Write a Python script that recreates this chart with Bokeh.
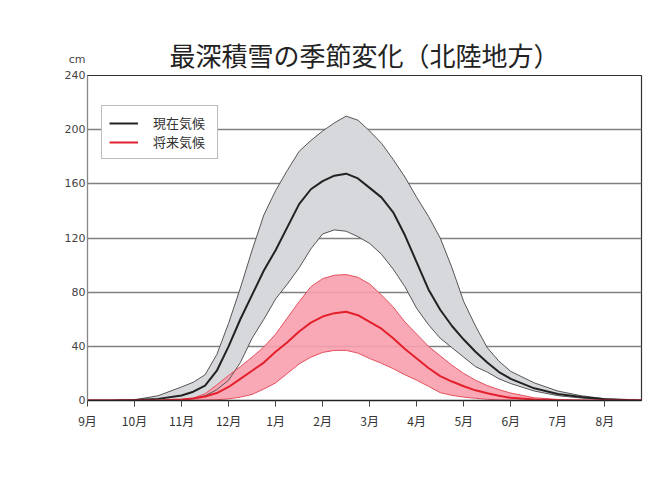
from bokeh.plotting import figure
from bokeh.models import Range1d, FixedTicker, Legend, LegendItem
from bokeh.embed import file_html
from bokeh.resources import INLINE

# x positions in month units (0 = start of September)
month_pos = [0, 0.5, 1, 1.5, 2, 2.25, 2.5, 2.75, 3, 3.25, 3.5, 3.75, 4, 4.25, 4.5, 4.75,
             5, 5.25, 5.5, 5.75, 6, 6.25, 6.5, 6.75, 7, 7.25, 7.5, 7.75, 8, 8.25, 8.5, 8.75,
             9, 9.5, 10, 10.5, 11, 11.5, 11.78]

# 現在気候 (present climate)
cur_mid = [0, 0, 0.3, 1.2, 3.7, 6.5, 11, 22, 40, 60, 78, 96, 111, 128, 145, 156,
           162, 166, 167.5, 164, 157, 150, 139, 122, 102, 82, 67, 55, 45, 36, 28, 21,
           16, 9, 4.8, 2.5, 1, 0.3, 0]
cur_hi = [0, 0, 0.5, 3.5, 10, 13.5, 19, 34, 57, 83, 111, 137, 155, 170, 184, 192,
          199, 205, 210, 207, 199, 190, 178, 165, 150, 136, 120, 98, 73, 55, 39, 29,
          21.5, 13, 7, 3.5, 1.3, 0.4, 0]
cur_lo = [0, 0, 0, 0, 0.5, 1.5, 3.5, 8, 15, 28, 46, 60, 75, 86, 98, 112,
          123, 126, 125, 121, 116, 108, 97, 84, 68, 56, 46, 39, 32, 25, 21, 16,
          12.5, 7, 3.6, 1.8, 0.8, 0.2, 0]

# 将来気候 (future climate)
fut_mid = [0, 0, 0, 0, 0.7, 1.5, 3, 5.5, 10, 16, 22, 28, 36, 43, 51, 57.5,
           62, 64.5, 65.5, 63, 58, 53, 46, 38, 31, 24, 18, 14, 10.5, 7.5, 5.3, 3.5,
           2, 0.7, 0.2, 0, 0, 0, 0]
fut_hi = [0, 0, 0, 0, 0.5, 1.8, 5, 11.5, 18.5, 25, 32, 39.5, 49, 61, 73, 84,
          90, 92.5, 93, 91, 86, 78, 69, 58, 49, 40, 33, 26, 20, 15, 11, 8,
          5.5, 2, 0.8, 0.2, 0, 0, 0]
fut_lo = [0, 0, 0, 0, 0, 0, 0.2, 0.6, 1.2, 2.5, 4.5, 8.5, 13, 20, 27, 32,
          35.5, 37, 37, 35, 31, 27.5, 23.5, 19, 15, 10.5, 5.8, 3.8, 2.5, 1.6, 0.9, 0.4,
          0.2, 0, 0, 0, 0, 0, 0]

month_ticks = [0, 1, 2, 3, 4, 5, 6, 7, 8, 9, 10, 11]
month_labels = ["9月", "10月", "11月", "12月", "1月", "2月", "3月", "4月", "5月", "6月", "7月", "8月"]
y_ticks = [0, 40, 80, 120, 160, 200, 240]

title_text = "最深積雪の季節変化（北陸地方）"
unit_text = "cm"
legend_labels = ["現在気候", "将来気候"]

JP = "Noto Sans CJK JP"

p = figure(width=670, height=484, output_backend="svg", toolbar_location=None,
           x_range=Range1d(0, 11.78), y_range=Range1d(0, 240),
           min_border_left=87, min_border_right=29, min_border_top=75, min_border_bottom=84,
           background_fill_color="white", border_fill_color="white",
           title=title_text)

p.title.text_font = JP
p.title.text_font_size = "26px"
p.title.text_font_style = "normal"
p.title.text_color = "#222222"
p.title.align = "center"
p.title.standoff = 5

# bands
p.varea(x=month_pos, y1=cur_lo, y2=cur_hi, fill_color="#d6d8db", fill_alpha=1.0)
p.varea(x=month_pos, y1=fut_lo, y2=fut_hi, fill_color="#f8a0ad", fill_alpha=0.9)
p.line(month_pos, cur_hi, line_color="#555555", line_width=1)
p.line(month_pos, cur_lo, line_color="#555555", line_width=1)
p.line(month_pos, fut_hi, line_color="#e5505e", line_width=1)
p.line(month_pos, fut_lo, line_color="#e5505e", line_width=1)
r_cur = p.line(month_pos, cur_mid, line_color="#222222", line_width=2)
r_fut = p.line(month_pos, fut_mid, line_color="#e3202c", line_width=2)

# grid / axes
p.xgrid.visible = False
p.ygrid.ticker = FixedTicker(ticks=y_ticks)
p.ygrid.grid_line_color = "#808080"
p.ygrid.grid_line_width = 1.3

p.outline_line_color = "#333333"
p.outline_line_width = 1.2

p.xaxis.ticker = FixedTicker(ticks=month_ticks)
p.xaxis.major_label_overrides = {t: l for t, l in zip(month_ticks, month_labels)}
p.xaxis.minor_tick_line_color = None
p.xaxis.major_tick_in = 0
p.xaxis.major_tick_out = 6
p.xaxis.major_tick_line_color = "#444444"
p.xaxis.axis_line_color = "#222222"
p.xaxis.axis_line_width = 1.5
p.xaxis.major_label_text_font = JP
p.xaxis.major_label_text_font_size = "12px"
p.xaxis.major_label_text_color = "#333333"
p.xaxis.major_label_standoff = 5

# y axis; the unit "cm" is shown as an extra line above the top tick label
y_labels = {t: str(t) for t in y_ticks}
y_labels[y_ticks[-1]] = unit_text + "\n" + str(y_ticks[-1]) + "\n "
p.yaxis.ticker = FixedTicker(ticks=y_ticks)
p.yaxis.major_label_overrides = y_labels
p.yaxis.minor_tick_line_color = None
p.yaxis.major_tick_in = 0
p.yaxis.major_tick_out = 0
p.yaxis.axis_line_color = "#888888"
p.yaxis.major_label_text_font = "DejaVu Sans"
p.yaxis.major_label_text_font_size = "11px"
p.yaxis.major_label_text_color = "#444444"
p.yaxis.major_label_standoff = 2

legend = Legend(items=[LegendItem(label=legend_labels[0], renderers=[r_cur]),
                       LegendItem(label=legend_labels[1], renderers=[r_fut])],
                location=(14, 241), padding=7, spacing=0, label_height=14, glyph_height=14,
                glyph_width=29, label_standoff=15, label_width=57, margin=0,
                label_text_font=JP, label_text_font_size="13px", label_text_color="#333333",
                border_line_color="#777777", border_line_width=1,
                background_fill_color="white", background_fill_alpha=1.0)
p.add_layout(legend)

open("out.html", "w").write(file_html(p, INLINE))
